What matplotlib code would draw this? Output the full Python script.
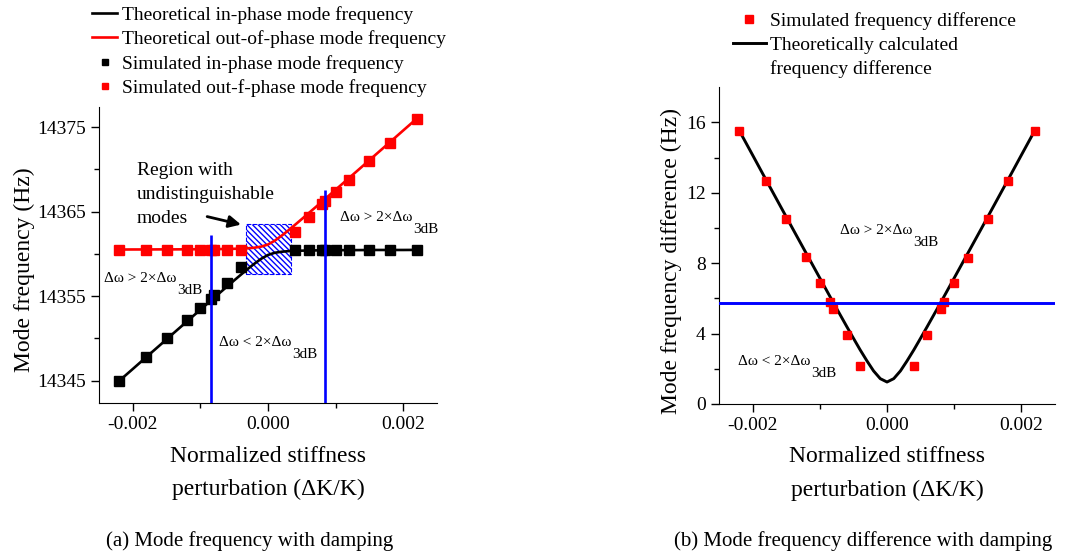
import matplotlib.pyplot as plt
from matplotlib.lines import Line2D
from matplotlib.patches import Rectangle
from matplotlib.ticker import FixedLocator, FormatStrFormatter

plt.rcParams['font.family'] = ['Liberation Serif', 'DejaVu Serif']
plt.rcParams['axes.unicode_minus'] = False

# simulated points (normalized stiffness perturbation)
x_sim = [-0.0022, -0.0018, -0.0015, -0.0012, -0.001, -0.00085, -0.0008, -0.0006, -0.0004,
         0.0004, 0.0006, 0.0008, 0.00085, 0.001, 0.0012, 0.0015, 0.0018, 0.0022]
sim_in = [14345.0, 14347.8, 14350.0, 14352.15, 14353.63, 14354.72, 14355.1, 14356.58, 14358.4,
          14360.5, 14360.5, 14360.5, 14360.5, 14360.5, 14360.5, 14360.5, 14360.5, 14360.5]
sim_out = [14360.5, 14360.5, 14360.5, 14360.5, 14360.5, 14360.5, 14360.5, 14360.5, 14360.5,
           14362.6, 14364.42, 14365.9, 14366.28, 14367.37, 14368.8, 14371.0, 14373.15, 14376.0]
sim_diff = [15.5, 12.7, 10.5, 8.35, 6.87, 5.78, 5.4, 3.92, 2.16,
            2.16, 3.92, 5.4, 5.78, 6.87, 8.3, 10.5, 12.65, 15.5]

# theoretical curves
x_th = [-0.0022, -0.002, -0.0018, -0.0016, -0.0014, -0.0012, -0.001, -0.0008, -0.0006, -0.0005,
        -0.0004, -0.0003, -0.0002, -0.0001, 0.0, 0.0001, 0.0002, 0.0003, 0.0004, 0.0005,
        0.0006, 0.0008, 0.001, 0.0012, 0.0014, 0.0016, 0.0018, 0.002, 0.0022]
th_in = [14344.98, 14346.38, 14347.79, 14349.19, 14350.60, 14352.00, 14353.40, 14354.80, 14356.18, 14356.87,
         14357.55, 14358.22, 14358.85, 14359.43, 14359.88, 14360.14, 14360.26, 14360.33, 14360.37, 14360.39,
         14360.41, 14360.43, 14360.45, 14360.45, 14360.46, 14360.47, 14360.47, 14360.47, 14360.48]
th_out = [14360.52, 14360.53, 14360.53, 14360.54, 14360.54, 14360.55, 14360.56, 14360.57, 14360.59, 14360.61,
          14360.63, 14360.67, 14360.74, 14360.87, 14361.12, 14361.57, 14362.15, 14362.78, 14363.45, 14364.13,
          14364.82, 14366.20, 14367.60, 14369.00, 14370.40, 14371.81, 14373.21, 14374.62, 14376.02]
th_diff = [15.55, 14.15, 12.74, 11.34, 9.94, 8.55, 7.16, 5.77, 4.41, 3.74,
           3.08, 2.46, 1.88, 1.44, 1.25, 1.44, 1.88, 2.46, 3.08, 3.74,
           4.41, 5.77, 7.16, 8.55, 9.94, 11.34, 12.74, 14.15, 15.55]

limit_x = [-0.00084, 0.00084]
limit_top = [14362.2, 14367.6]
limit_diff = 5.75

fig = plt.figure(figsize=(10.7, 5.55), dpi=100)
ax1 = fig.add_axes([99 / 1070, 152 / 555, 338 / 1070, 296 / 555])
ax2 = fig.add_axes([719 / 1070, 151 / 555, 336 / 1070, 316.7 / 555])


def style_axes(ax, yticks, yminor):
    for s in ['top', 'right']:
        ax.spines[s].set_visible(False)
    ax.set_xlim(-0.0025, 0.0025)
    ax.xaxis.set_major_locator(FixedLocator([-0.002, 0.0, 0.002]))
    ax.xaxis.set_minor_locator(FixedLocator([-0.001, 0.001]))
    ax.xaxis.set_major_formatter(FormatStrFormatter('%.3f'))
    ax.yaxis.set_major_locator(FixedLocator(yticks))
    ax.yaxis.set_minor_locator(FixedLocator(yminor))
    ax.tick_params(which='major', direction='out', length=6, width=1, labelsize=14)
    ax.tick_params(which='minor', direction='out', length=3.5, width=1)


def delta_label(ax, x, y, sign, size=11):
    t = ax.text(x, y, 'Δω ' + sign + ' 2×Δω', fontsize=size, va='baseline')
    ax.annotate('3dB', xy=(1, 0), xycoords=t, xytext=(0.5, -6.3),
                textcoords='offset points', fontsize=size, va='baseline')


# (a) mode frequencies
style_axes(ax1, [14345, 14355, 14365, 14375], [14350, 14360, 14370])
ax1.set_ylim(14342.35, 14377.4)
l1, = ax1.plot(x_th, th_in, color='black', lw=1.9, zorder=3)
l2, = ax1.plot(x_th, th_out, color='red', lw=1.9, zorder=3)
m1, = ax1.plot(x_sim, sim_in, 's', color='black', ms=6.5, zorder=4, lw=0)
m2, = ax1.plot(x_sim, sim_out, 's', color='red', ms=6.5, zorder=4, lw=0)
ax1.vlines(limit_x, 14342.35, limit_top, color='blue', lw=1.9, zorder=5)
ax1.add_patch(Rectangle((-0.00033, 14357.6), 0.00067, 5.9, facecolor='none', edgecolor='blue',
                        hatch='\\' * 6, linestyle='--', lw=0.8, zorder=2))
ax1.text(-0.00194, 14370.9, 'Region with\nundistinguishable\nmodes', fontsize=14, va='top',
         linespacing=1.56)
ax1.annotate('', xy=(-0.00036, 14363.4), xytext=(-0.00094, 14364.5),
             arrowprops=dict(arrowstyle='-|>', color='black', lw=2, mutation_scale=18))
delta_label(ax1, -0.00243, 14356.7, '>')
delta_label(ax1, 0.00106, 14363.9, '>')
delta_label(ax1, -0.00073, 14349.1, '<')
ax1.set_ylabel('Mode frequency (Hz)', fontsize=17)
ax1.yaxis.set_label_coords(-0.19, 0.45)
ax1.set_xlabel('Normalized stiffness\nperturbation (ΔK/K)', fontsize=17, linespacing=1.78)
ax1.xaxis.set_label_coords(0.5, -0.144)
ax1.xaxis.label.set_va('top')

fig.legend([l1, l2, m1, m2],
           ['Theoretical in-phase mode frequency', 'Theoretical out-of-phase mode frequency',
            'Simulated in-phase mode frequency', 'Simulated out-f-phase mode frequency'],
           loc='upper left', bbox_to_anchor=(92 / 1070, 0.989), frameon=False, fontsize=14,
           borderpad=0, borderaxespad=0, handlelength=1.29, handletextpad=0.23,
           labelspacing=0.33, markerscale=0.75)

# (b) frequency difference
style_axes(ax2, [0, 4, 8, 12, 16], [2, 6, 10, 14])
ax2.set_ylim(0, 18)
d1, = ax2.plot(x_th, th_diff, color='black', lw=2.1, zorder=3)
d2, = ax2.plot(x_sim, sim_diff, 's', color='red', ms=6.3, zorder=4, lw=0)
ax2.axhline(limit_diff, color='blue', lw=2.1, zorder=5)
delta_label(ax2, -0.0007, 9.67, '>')
delta_label(ax2, -0.00221, 2.2, '<')
ax2.set_ylabel('Mode frequency difference (Hz)', fontsize=17)
ax2.yaxis.set_label_coords(-0.11, 0.45)
ax2.set_xlabel('Normalized stiffness\nperturbation (ΔK/K)', fontsize=17, linespacing=1.78)
ax2.xaxis.set_label_coords(0.5, -0.132)
ax2.xaxis.label.set_va('top')

# second line of the curve label sits under the first, without its own handle
blank = Line2D([], [], linestyle='none')
fig.legend([d2, d1, blank],
           ['Simulated frequency difference', 'Theoretically calculated', 'frequency difference'],
           loc='upper left', bbox_to_anchor=(732.7 / 1070, 0.979), frameon=False, fontsize=14,
           borderpad=0, borderaxespad=0, handlelength=1.7, handletextpad=0.2,
           labelspacing=0.34)

fig.text(250 / 1070, 1 - 541 / 555, '(a) Mode frequency with damping', ha='center', va='center', fontsize=15)
fig.text(863 / 1070, 1 - 541 / 555, '(b) Mode frequency difference with damping', ha='center', va='center',
         fontsize=15)

fig.savefig('out.png', dpi=100)
